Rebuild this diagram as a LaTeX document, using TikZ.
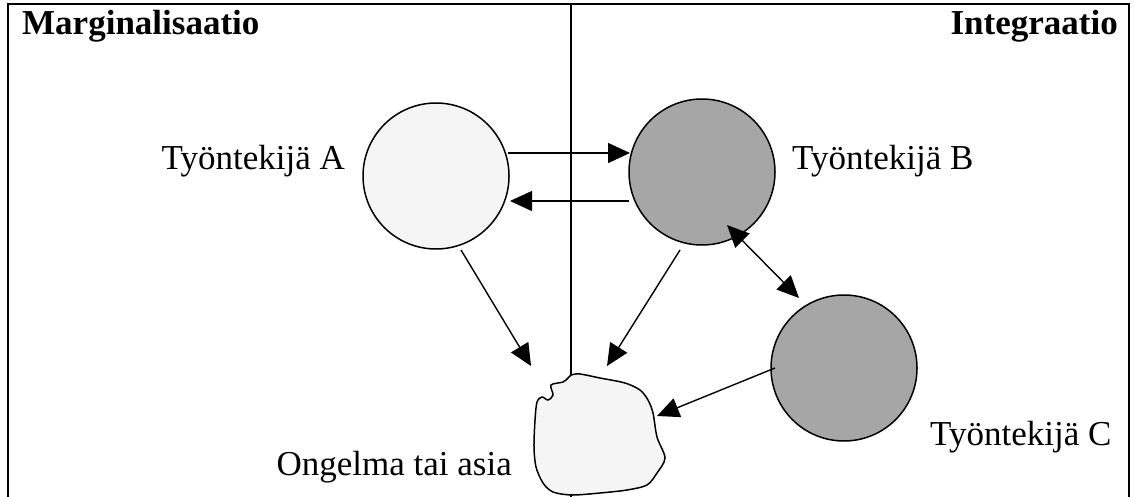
\documentclass[tikz,border=0pt]{standalone}
\usepackage{fontspec}
\setmainfont{Liberation Serif}
\usetikzlibrary{arrows.meta}
\begin{document}
\begin{tikzpicture}[x=1pt,y=-1pt,
  frameline/.style={line width=2pt},
  person/.style={circle,draw,line width=1.5pt,minimum size=146pt,inner sep=0pt},
  light/.style={fill=lightfill},
  dark/.style={fill=darkfill},
  conn/.style={line width=1.4pt,-{Triangle[length=22pt,width=20pt]}},
  bothconn/.style={line width=1.4pt,{Triangle[length=22pt,width=20pt]}-{Triangle[length=22pt,width=20pt]}},
  lbl/.style={inner sep=0pt,font=\fontsize{35}{40}\selectfont},
  title/.style={inner sep=0pt,font=\fontsize{35}{40}\selectfont\bfseries}]
\definecolor{lightfill}{HTML}{F5F5F5}
\definecolor{darkfill}{HTML}{A6A6A6}
\useasboundingbox (0,0) rectangle (1134,497);
% frame
\draw[frameline] (7.5,497) -- (7.5,4.5) -- (1129,4.5) -- (1129,497);
\draw[frameline] (571,4.5) -- (571,497);
% titles
\node[title,anchor=west] (marg) at (22,26) {Marginalisaatio};
\node[title,anchor=east] (integ) at (1118,26) {Integraatio};
% circles
\node[person,light] (A) at (436,176) {};
\node[person,dark] (B) at (702,172) {};
\node[person,dark] (C) at (844,368) {};
% labels
\node[lbl,anchor=east] (la) at (345,161) {Työntekijä A};
\node[lbl,anchor=west] (lb) at (792,161) {Työntekijä B};
\node[lbl,anchor=west] (lc) at (930,437) {Työntekijä C};
\node[lbl,anchor=east] (lo) at (512,467) {Ongelma tai asia};
% blob
\draw[line width=1.5pt,fill=lightfill] plot[smooth cycle,tension=0.5] coordinates {
 (571,375) (580,374) (600,378) (625,383) (640,390) (648,400) (653,413)
 (657,437) (665,458) (657,473) (647,485) (627,490) (600,493) (572,495)
 (553,492) (543,483) (536,467) (534,447) (535,420) (537,402) (542,397)
 (548,400) (553,395) (551,385) (563,382) (568,378)};
\coordinate (tA) at (531,366);
\coordinate (tB) at (607,366);
\coordinate (tC) at (657,416);
\coordinate (aAB) at (508,153);
\coordinate (bAB) at (630,153);
\coordinate (aBA) at (629,201);
\coordinate (bBA) at (510,201);
\coordinate (aBC) at (727,225);
\coordinate (bBC) at (799,298);
\coordinate (sA) at (461,250);
\coordinate (sB) at (680,250);
\coordinate (sC) at (775,368);
% connectors
\draw[conn] (aAB) -- (bAB);
\draw[conn] (aBA) -- (bBA);
\draw[bothconn] (aBC) -- (bBC);
\draw[conn] (sA) -- (tA);
\draw[conn] (sB) -- (tB);
\draw[conn] (sC) -- (tC);
\end{tikzpicture}
\end{document}
